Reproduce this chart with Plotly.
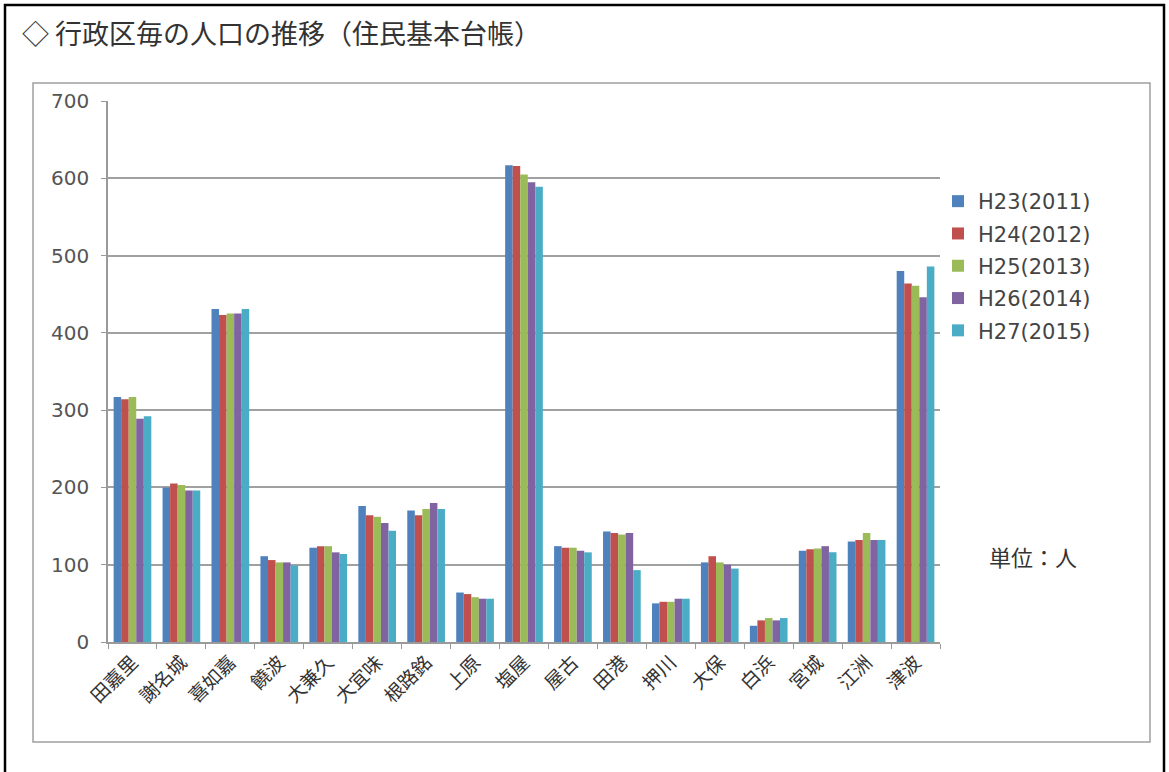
import plotly.graph_objects as go

districts = ["田嘉里", "謝名城", "喜如嘉", "饒波", "大兼久", "大宜味", "根路銘", "上原", "塩屋",
             "屋古", "田港", "押川", "大保", "白浜", "宮城", "江洲", "津波"]

years = ["H23(2011)", "H24(2012)", "H25(2013)", "H26(2014)", "H27(2015)"]

pop_h23 = [317, 200, 431, 111, 122, 176, 170, 64, 617, 124, 143, 50, 103, 21, 118, 130, 480]
pop_h24 = [314, 205, 423, 106, 124, 164, 164, 62, 616, 122, 141, 52, 111, 28, 120, 132, 464]
pop_h25 = [317, 203, 425, 103, 124, 162, 172, 58, 605, 122, 139, 52, 103, 31, 121, 141, 461]
pop_h26 = [289, 196, 425, 103, 116, 154, 180, 56, 595, 118, 141, 56, 100, 28, 124, 132, 446]
pop_h27 = [292, 196, 431, 99, 114, 144, 172, 56, 589, 116, 93, 56, 95, 31, 116, 132, 486]

series = [pop_h23, pop_h24, pop_h25, pop_h26, pop_h27]
colors = ["#4F81BD", "#C0504D", "#9BBB59", "#8064A2", "#4BACC6"]

font_jp = "Noto Sans CJK JP"
font_num = "DejaVu Sans"

fig = go.Figure()
for name, vals, col in zip(years, series, colors):
    fig.add_trace(go.Bar(x=districts, y=vals, name=name, marker_color=col,
                         marker_line_width=0, legendgroup=name))

W, H = 1169, 772
L, R, T, B = 108, 229, 101, 130
pw, ph = W - L - R, H - T - B


def px(x):
    return (x - L) / pw


def py(y):
    return (H - B - y) / ph


fig.update_layout(
    width=W, height=H,
    margin=dict(l=L, r=R, t=T, b=B),
    paper_bgcolor="white", plot_bgcolor="white",
    barmode="group", bargap=0.23, bargroupgap=0,
    font=dict(family=font_jp, color="#444444"),
    legend=dict(x=px(938), y=py(181), xanchor="left", yanchor="top",
                font=dict(size=21, color="#444444", family=font_num),
                tracegroupgap=2, itemwidth=30, bgcolor="rgba(0,0,0,0)"),
    xaxis=dict(showline=True, linecolor="#9A9A9A", linewidth=1.5,
               ticks="outside", tickson="boundaries", ticklen=5,
               tickcolor="#9A9A9A", tickangle=-45,
               tickfont=dict(size=19, color="#333333", family=font_jp)),
    yaxis=dict(range=[0, 700], dtick=100, showline=True, linecolor="#9A9A9A",
               linewidth=1.5, ticks="outside", ticklen=5, tickcolor="#9A9A9A",
               showgrid=True, gridcolor="#A0A0A0", gridwidth=1.5,
               zeroline=False, ticklabelstandoff=8,
               tickfont=dict(size=20, color="#555555", family=font_num)),
    shapes=[
        dict(type="rect", xref="paper", yref="paper",
             x0=px(5), x1=px(1164), y0=py(5), y1=py(790),
             line=dict(color="black", width=2.5), layer="below"),
        dict(type="rect", xref="paper", yref="paper",
             x0=px(33), x1=px(1150), y0=py(83), y1=py(742),
             line=dict(color="#A0A0A0", width=1.5), layer="below"),
    ],
    annotations=[
        dict(text="◇ 行政区毎の人口の推移（住民基本台帳）", xref="paper", yref="paper",
             x=px(20), y=py(33), xanchor="left", yanchor="middle", showarrow=False,
             font=dict(size=27, color="#333333", family=font_jp)),
        dict(text="単位：人", xref="paper", yref="paper",
             x=px(1033), y=py(556), xanchor="center", yanchor="middle", showarrow=False,
             font=dict(size=22, color="#333333", family=font_jp)),
    ],
)

fig.write_html("out.html")
